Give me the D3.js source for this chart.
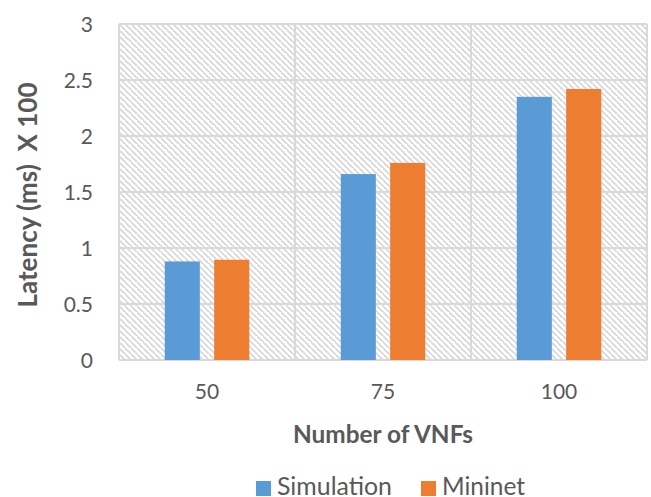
<!DOCTYPE html>
<html>
<head>
<meta charset="utf-8">
<script src="https://cdn.jsdelivr.net/npm/d3@7"></script>
<style>
  html, body { margin: 0; padding: 0; background: #fff; }
  svg { display: block; }
  text { font-family: Lato, "Open Sans", "Liberation Sans", sans-serif; fill: #595959; }
</style>
</head>
<body>
<svg id="chart" width="651" height="497"></svg>
<script>
// Latency per number of VNFs, in units of 100 ms
const categories = ["50", "75", "100"];
const seriesNames = ["Simulation", "Mininet"];
const simulation = [0.88, 1.66, 2.35];
const mininet = [0.895, 1.76, 2.42];
const yTicks = [0, 0.5, 1, 1.5, 2, 2.5, 3];
const colors = ["#5b9bd5", "#ed7d31"];

const svg = d3.select("#chart");
const margin = { left: 119, right: 4, top: 24, bottom: 137 };
const W = 651, H = 497;
const plotW = W - margin.left - margin.right;
const plotH = H - margin.top - margin.bottom;

// Scale a text's font size so its rendered width matches the given width
function fitWidth(sel, width) {
  const node = sel.node();
  const fs = parseFloat(sel.style("font-size"));
  const len = node.getComputedTextLength();
  if (len > 0) sel.style("font-size", (fs * width / len).toFixed(2) + "px");
  return sel;
}

// Diagonal hatch background
const defs = svg.append("defs");
const pat = defs.append("pattern")
  .attr("id", "hatch")
  .attr("patternUnits", "userSpaceOnUse")
  .attr("width", 6).attr("height", 6);
pat.append("rect").attr("width", 6).attr("height", 6).attr("fill", "#fff");
pat.append("path")
  .attr("d", "M-1,-1 L7,7 M-4,2 L2,8 M4,-4 L10,2")
  .attr("stroke", "#d6d6d6").attr("stroke-width", 1.6);

const g = svg.append("g").attr("transform", `translate(${margin.left},${margin.top})`);

const x0 = d3.scaleBand().domain(categories).range([0, plotW]).paddingInner(0).paddingOuter(0);
const x1 = d3.scaleBand().domain(seriesNames).range([x0.bandwidth() * 0.26, x0.bandwidth() * 0.74]).paddingInner(0.29);
const y = d3.scaleLinear().domain([0, 3]).range([plotH, 0]);

g.append("rect").attr("width", plotW).attr("height", plotH).attr("fill", "url(#hatch)");

// Horizontal gridlines
g.append("g").selectAll("line").data(yTicks).join("line")
  .attr("x1", 0).attr("x2", plotW)
  .attr("y1", d => y(d)).attr("y2", d => y(d))
  .attr("stroke", "#d9d9d9").attr("stroke-width", 2);

// Vertical category separators and border
g.append("g").selectAll("line").data(d3.range(categories.length + 1)).join("line")
  .attr("x1", i => i * x0.bandwidth()).attr("x2", i => i * x0.bandwidth())
  .attr("y1", 0).attr("y2", plotH)
  .attr("stroke", "#d9d9d9").attr("stroke-width", 2);

// Bars
const rows = categories.map((c, i) => ({ cat: c, vals: [simulation[i], mininet[i]] }));
g.append("g").selectAll("g").data(rows).join("g")
  .attr("transform", d => `translate(${x0(d.cat)},0)`)
  .selectAll("rect").data(d => d.vals.map((v, j) => ({ name: seriesNames[j], v, j })))
  .join("rect")
  .attr("x", d => x1(d.name))
  .attr("width", x1.bandwidth())
  .attr("y", d => y(d.v))
  .attr("height", d => y(0) - y(d.v))
  .attr("fill", d => colors[d.j]);

// Y axis
const yAxis = g.append("g").call(d3.axisLeft(y).tickValues(yTicks).tickFormat(d3.format("")).tickSize(0).tickPadding(26));
yAxis.select(".domain").remove();
yAxis.selectAll("text").style("font-size", "21px").attr("fill", "#595959").attr("dy", "0.35em");

// X axis
const xAxis = g.append("g").attr("transform", `translate(0,${plotH})`)
  .call(d3.axisBottom(x0).tickSize(0).tickPadding(24));
xAxis.select(".domain").remove();
xAxis.selectAll("text").style("font-size", "21px").attr("fill", "#595959");

// Axis titles
const xTitle = svg.append("text")
  .attr("x", margin.left + plotW / 2).attr("y", 443)
  .attr("text-anchor", "middle")
  .style("font-size", "22px").style("font-weight", "bold")
  .text("Number of VNFs");
fitWidth(xTitle, 180);

const yTitle = svg.append("text")
  .attr("transform", `translate(37,${margin.top + plotH / 2 + 3}) rotate(-90)`)
  .attr("text-anchor", "middle")
  .style("font-size", "22px").style("font-weight", "bold")
  .attr("xml:space", "preserve")
  .text("Latency (ms)  X 100");
fitWidth(yTitle, 225);

// Legend
const legend = svg.append("g");
const legendItems = [
  { x: 256, name: seriesNames[0], w: 115 },
  { x: 421, name: seriesNames[1], w: 83 }
];
legendItems.forEach((it, i) => {
  legend.append("rect").attr("x", it.x).attr("y", 481).attr("width", 15).attr("height", 15).attr("fill", colors[i]);
  const t = legend.append("text").attr("x", it.x + 21).attr("y", 494.5)
    .style("font-size", "22px").text(it.name);
  fitWidth(t, it.w);
});
</script>
</body>
</html>
